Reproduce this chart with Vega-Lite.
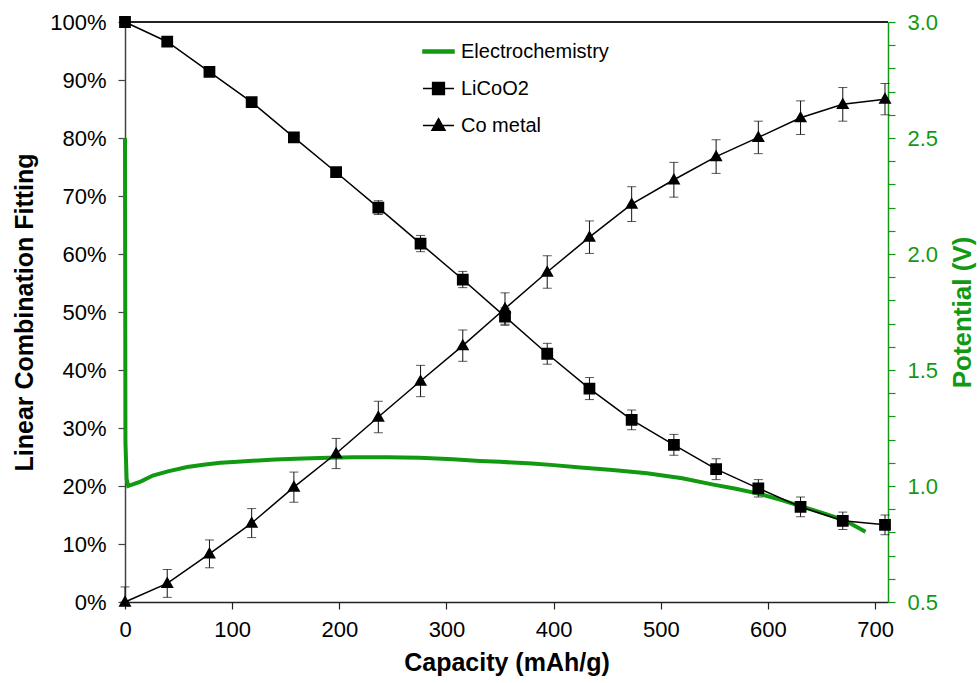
{
  "$schema": "https://vega.github.io/schema/vega-lite/v6.json",
  "width": 763,
  "height": 580,
  "autosize": {"type": "none"},
  "padding": {"left": 125, "top": 22, "right": 92, "bottom": 81},
  "background": "white",
  "config": {
    "view": {"stroke": null},
    "font": "Liberation Sans",
    "axis": {"grid": false, "labelFont": "Liberation Sans", "titleFont": "Liberation Sans"}
  },
  "datasets": {
    "frac": [
      {"capacity": 0, "series": "LiCoO2", "value": 100, "lo": 100, "hi": 100},
      {"capacity": 39.4, "series": "LiCoO2", "value": 96.6, "lo": 96.2, "hi": 97.0},
      {"capacity": 78.8, "series": "LiCoO2", "value": 91.4, "lo": 91.0, "hi": 91.8},
      {"capacity": 118.2, "series": "LiCoO2", "value": 86.2, "lo": 85.7, "hi": 86.7},
      {"capacity": 157.6, "series": "LiCoO2", "value": 80.1, "lo": 79.5, "hi": 80.7},
      {"capacity": 197, "series": "LiCoO2", "value": 74.1, "lo": 73.3, "hi": 74.9},
      {"capacity": 236.4, "series": "LiCoO2", "value": 68.0, "lo": 66.8, "hi": 69.2},
      {"capacity": 275.8, "series": "LiCoO2", "value": 61.8, "lo": 60.4, "hi": 63.2},
      {"capacity": 315.2, "series": "LiCoO2", "value": 55.6, "lo": 54.2, "hi": 57.0},
      {"capacity": 354.6, "series": "LiCoO2", "value": 49.2, "lo": 47.7, "hi": 50.7},
      {"capacity": 394, "series": "LiCoO2", "value": 42.8, "lo": 41.0, "hi": 44.6},
      {"capacity": 433.4, "series": "LiCoO2", "value": 36.8, "lo": 34.9, "hi": 38.7},
      {"capacity": 472.8, "series": "LiCoO2", "value": 31.4, "lo": 29.7, "hi": 33.1},
      {"capacity": 512.2, "series": "LiCoO2", "value": 27.1, "lo": 25.3, "hi": 28.9},
      {"capacity": 551.6, "series": "LiCoO2", "value": 22.9, "lo": 21.1, "hi": 24.7},
      {"capacity": 591, "series": "LiCoO2", "value": 19.6, "lo": 18.1, "hi": 21.1},
      {"capacity": 630.4, "series": "LiCoO2", "value": 16.4, "lo": 14.7, "hi": 18.1},
      {"capacity": 669.8, "series": "LiCoO2", "value": 14.0, "lo": 12.5, "hi": 15.5},
      {"capacity": 709.2, "series": "LiCoO2", "value": 13.3, "lo": 11.6, "hi": 15.0},
      {"capacity": 0, "series": "Co metal", "value": 0, "lo": 0, "hi": 2.6},
      {"capacity": 39.4, "series": "Co metal", "value": 3.2, "lo": 0.8, "hi": 5.6},
      {"capacity": 78.8, "series": "Co metal", "value": 8.3, "lo": 5.9, "hi": 10.7},
      {"capacity": 118.2, "series": "Co metal", "value": 13.6, "lo": 11.1, "hi": 16.1},
      {"capacity": 157.6, "series": "Co metal", "value": 19.8, "lo": 17.2, "hi": 22.4},
      {"capacity": 197, "series": "Co metal", "value": 25.6, "lo": 23.0, "hi": 28.2},
      {"capacity": 236.4, "series": "Co metal", "value": 31.9, "lo": 29.2, "hi": 34.6},
      {"capacity": 275.8, "series": "Co metal", "value": 38.1, "lo": 35.4, "hi": 40.8},
      {"capacity": 315.2, "series": "Co metal", "value": 44.2, "lo": 41.5, "hi": 46.9},
      {"capacity": 354.6, "series": "Co metal", "value": 50.6, "lo": 47.9, "hi": 53.3},
      {"capacity": 394, "series": "Co metal", "value": 56.9, "lo": 54.1, "hi": 59.7},
      {"capacity": 433.4, "series": "Co metal", "value": 62.9, "lo": 60.1, "hi": 65.7},
      {"capacity": 472.8, "series": "Co metal", "value": 68.6, "lo": 65.6, "hi": 71.6},
      {"capacity": 512.2, "series": "Co metal", "value": 72.8, "lo": 69.8, "hi": 75.8},
      {"capacity": 551.6, "series": "Co metal", "value": 76.8, "lo": 73.9, "hi": 79.7},
      {"capacity": 591, "series": "Co metal", "value": 80.1, "lo": 77.3, "hi": 82.9},
      {"capacity": 630.4, "series": "Co metal", "value": 83.5, "lo": 80.6, "hi": 86.4},
      {"capacity": 669.8, "series": "Co metal", "value": 85.8, "lo": 82.9, "hi": 88.7},
      {"capacity": 709.2, "series": "Co metal", "value": 86.7, "lo": 84.0, "hi": 89.4}
    ],
    "ec": [
      {"capacity": 0, "series": "Electrochemistry", "potential": 2.5},
      {"capacity": 0.4, "series": "Electrochemistry", "potential": 1.19},
      {"capacity": 1.5, "series": "Electrochemistry", "potential": 1.03},
      {"capacity": 3, "series": "Electrochemistry", "potential": 1.0},
      {"capacity": 8, "series": "Electrochemistry", "potential": 1.008},
      {"capacity": 15, "series": "Electrochemistry", "potential": 1.02},
      {"capacity": 26, "series": "Electrochemistry", "potential": 1.045},
      {"capacity": 40, "series": "Electrochemistry", "potential": 1.063},
      {"capacity": 58, "series": "Electrochemistry", "potential": 1.082},
      {"capacity": 75, "series": "Electrochemistry", "potential": 1.093},
      {"capacity": 89, "series": "Electrochemistry", "potential": 1.1},
      {"capacity": 105, "series": "Electrochemistry", "potential": 1.105},
      {"capacity": 119, "series": "Electrochemistry", "potential": 1.109},
      {"capacity": 140, "series": "Electrochemistry", "potential": 1.114},
      {"capacity": 166, "series": "Electrochemistry", "potential": 1.119},
      {"capacity": 190, "series": "Electrochemistry", "potential": 1.122},
      {"capacity": 213, "series": "Electrochemistry", "potential": 1.124},
      {"capacity": 245, "series": "Electrochemistry", "potential": 1.124},
      {"capacity": 275, "series": "Electrochemistry", "potential": 1.122},
      {"capacity": 306, "series": "Electrochemistry", "potential": 1.115},
      {"capacity": 331, "series": "Electrochemistry", "potential": 1.108},
      {"capacity": 350, "series": "Electrochemistry", "potential": 1.104},
      {"capacity": 380, "series": "Electrochemistry", "potential": 1.097},
      {"capacity": 400, "series": "Electrochemistry", "potential": 1.09},
      {"capacity": 425, "series": "Electrochemistry", "potential": 1.08},
      {"capacity": 455, "series": "Electrochemistry", "potential": 1.069},
      {"capacity": 487, "series": "Electrochemistry", "potential": 1.055},
      {"capacity": 520, "series": "Electrochemistry", "potential": 1.033},
      {"capacity": 549, "series": "Electrochemistry", "potential": 1.006},
      {"capacity": 570, "series": "Electrochemistry", "potential": 0.988},
      {"capacity": 592, "series": "Electrochemistry", "potential": 0.966},
      {"capacity": 612, "series": "Electrochemistry", "potential": 0.94},
      {"capacity": 632, "series": "Electrochemistry", "potential": 0.911},
      {"capacity": 652, "series": "Electrochemistry", "potential": 0.882},
      {"capacity": 671, "series": "Electrochemistry", "potential": 0.853},
      {"capacity": 691, "series": "Electrochemistry", "potential": 0.803}
    ]
  },
  "layer": [
    {
      "data": {"name": "ec"},
      "mark": {"type": "line", "strokeWidth": 4, "strokeCap": "butt"},
      "encoding": {
        "x": {"field": "capacity", "type": "quantitative", "scale": {"domain": [0, 712], "nice": false}},
        "y": {
          "field": "potential", "type": "quantitative",
          "scale": {"domain": [0.5, 3.0], "nice": false, "zero": false},
          "axis": {
            "orient": "right",
            "values": [0.5,0.6,0.7,0.8,0.9,1.0,1.1,1.2,1.3,1.4,1.5,1.6,1.7,1.8,1.9,2.0,2.1,2.2,2.3,2.4,2.5,2.6,2.7,2.8,2.9,3.0],
            "labelExpr": "abs(datum.value*2 - round(datum.value*2)) < 0.001 ? format(datum.value, '.1f') : ''",
            "title": "Potential (V)",
            "titleAngle": 270,
            "titleBaseline": "top",
            "titleFontSize": 26,
            "titleFontWeight": "bold",
            "titleColor": "#119a11",
            "titlePadding": 12,
            "labelFontSize": 22,
            "labelColor": "#119a11",
            "labelPadding": 12,
            "domainColor": "#119a11",
            "domainWidth": 1.5,
            "tickColor": "#119a11",
            "tickSize": 7,
            "tickWidth": 1.2,
            "labelFlush": false,
            "labelOverlap": false
          }
        },
        "color": {"field": "series", "type": "nominal"}
      }
    },
    {
      "data": {"name": "frac"},
      "layer": [
        {
          "mark": {"type": "rule", "color": "#222", "strokeWidth": 1.2},
          "encoding": {"y": {"datum": 100, "type": "quantitative"}}
        },
        {
          "mark": {"type": "line", "strokeWidth": 1.5},
          "encoding": {
            "x": {"field": "capacity", "type": "quantitative", "scale": {"domain": [0, 712], "nice": false},
              "axis": {
                "values": [0,100,200,300,400,500,600,700],
                "title": "Capacity (mAh/g)",
                "titleFontSize": 25,
                "titleFontWeight": "bold",
                "titleColor": "black",
                "titlePadding": 10,
                "labelFontSize": 22,
                "labelColor": "black",
                "labelPadding": 10,
                "domainColor": "#222",
                "domainWidth": 1.5,
                "tickColor": "#222",
                "tickSize": 7,
                "tickWidth": 1.2,
                "labelFlush": false
              }
            },
            "y": {
              "field": "value", "type": "quantitative",
              "title": "Linear Combination Fitting",
              "scale": {"domain": [0, 100], "nice": false},
              "axis": {
                "orient": "left",
                "values": [0,5,10,15,20,25,30,35,40,45,50,55,60,65,70,75,80,85,90,95,100],
                "labelExpr": "datum.value % 10 == 0 ? datum.value + '%' : ''",
                "title": "Linear Combination Fitting",
                "titleFontSize": 25,
                "titleFontWeight": "bold",
                "titleColor": "black",
                "titlePadding": 12,
                "labelFontSize": 22,
                "labelColor": "black",
                "labelPadding": 12,
                "domainColor": "#444",
                "domainWidth": 1.5,
                "tickColor": "#444",
                "tickSize": 7,
                "tickWidth": 1.2,
                "labelFlush": false,
                "labelOverlap": false
              }
            },
            "color": {
              "field": "series", "type": "nominal",
              "scale": {"domain": ["Electrochemistry", "LiCoO2", "Co metal"], "range": ["#119a11", "black", "black"]},
              "legend": {
                "orient": "none", "legendX": 297, "legendY": 13, "title": null,
                "symbolSize": 961, "symbolStrokeWidth": 1.5,
                "labelFontSize": 20, "labelFont": "Liberation Sans", "labelColor": "black",
                "labelOffset": 6, "rowPadding": 10, "padding": 0
              }
            }
          }
        },
        {
          "mark": {"type": "errorbar", "ticks": {"size": 9}, "color": "#111", "thickness": 1},
          "encoding": {
            "x": {"field": "capacity", "type": "quantitative"},
            "y": {"field": "lo", "type": "quantitative", "title": "Linear Combination Fitting"},
            "y2": {"field": "hi"}
          }
        },
        {
          "mark": {"type": "point", "filled": true, "opacity": 1, "size": 961},
          "encoding": {
            "x": {"field": "capacity", "type": "quantitative"},
            "y": {"field": "value", "type": "quantitative", "title": "Linear Combination Fitting"},
            "color": {"field": "series", "type": "nominal"},
            "shape": {
              "field": "series", "type": "nominal",
              "scale": {
                "domain": ["Electrochemistry", "LiCoO2", "Co metal"],
                "range": ["M-1,-0.1H1V0.1H-1Z", "M-1,0H1M-0.38,-0.38H0.38V0.38H-0.38Z", "M-1,0H1M0,-0.44L0.42,0.3H-0.42Z"]
              },
              "legend": {
                "orient": "none", "legendX": 297, "legendY": 13, "title": null,
                "symbolSize": 961, "symbolStrokeWidth": 1.5,
                "labelFontSize": 20, "labelFont": "Liberation Sans", "labelColor": "black",
                "labelOffset": 6, "rowPadding": 10, "padding": 0
              }
            }
          }
        }
      ]
    }
  ],
  "resolve": {"scale": {"y": "independent"}}
}
